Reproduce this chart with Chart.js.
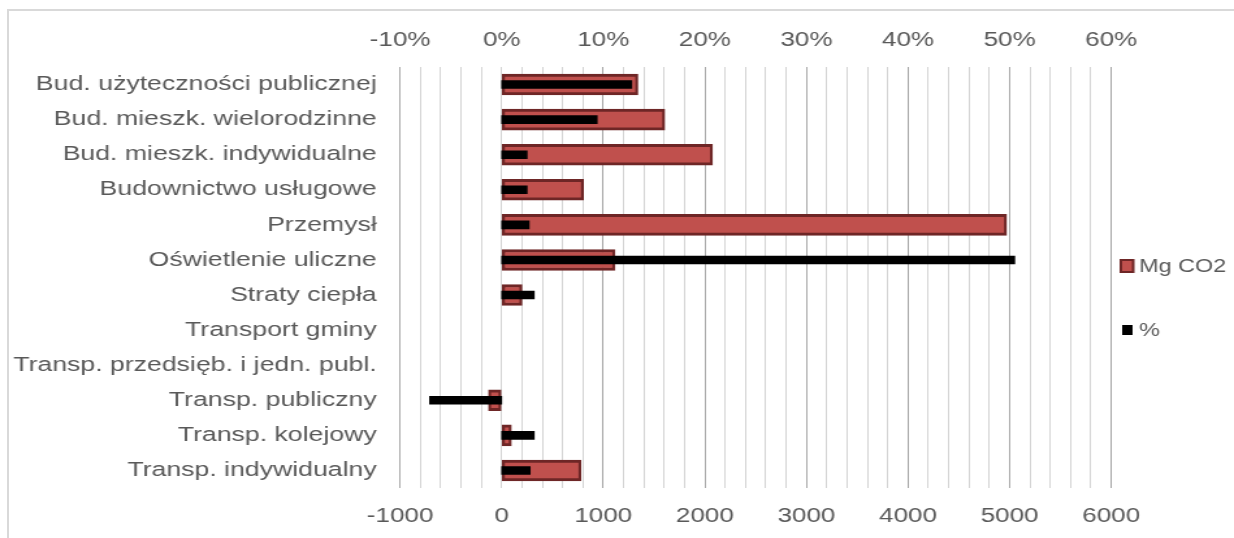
<!DOCTYPE html>
<html>
<head>
<meta charset="utf-8">
<script src="https://cdn.jsdelivr.net/npm/chart.js@4/dist/chart.umd.min.js"></script>
<style>
  html, body { margin: 0; padding: 0; background: #fff; overflow: hidden; }
  #frame { position: absolute; left: 7px; top: 9px; width: 1400px; height: 700px;
           border-top: 2px solid #d9d9d9; border-left: 2px solid #d9d9d9; }
  /* the picture is stretched sideways, so the chart is drawn narrower and widened */
  #wrap { position: absolute; left: 0; top: 0; width: 949px; height: 538px;
          transform: scaleX(1.3003); transform-origin: 0 0; }
</style>
</head>
<body>
<div id="frame"></div>
<div id="wrap"><canvas id="chart" width="949" height="538"></canvas></div>
<script>
const categories = [
    'Bud. użyteczności publicznej',
    'Bud. mieszk. wielorodzinne',
    'Bud. mieszk. indywidualne',
    'Budownictwo usługowe',
    'Przemysł',
    'Oświetlenie uliczne',
    'Straty ciepła',
    'Transport gminy',
    'Transp. przedsięb. i jedn. publ.',
    'Transp. publiczny',
    'Transp. kolejowy',
    'Transp. indywidualny'
];
const mgCO2 = [1340, 1605, 2075, 805, 4970, 1115, 200, 0, 0, -130, 95, 780];
const percent = [12.8, 9.4, 2.5, 2.5, 2.7, 50.5, 3.2, 0, 0, -7.1, 3.2, 2.8];
const mgTicks = { min: -1000, max: 6000, minor: 200, major: 1000 };
const pctTicks = { min: -10, max: 60, step: 10 };

Chart.defaults.font.family = "'Liberation Sans', Arial, sans-serif";
Chart.defaults.font.size = 20;
Chart.defaults.color = '#595959';

const mgFill = '#c0504d';
const mgEdge = '#6e2626';
const pctFill = '#000000';

// legend drawn by hand: the two entries sit far apart on the right
const sideLegend = {
    id: 'sideLegend',
    afterDraw(chart) {
        const c = chart.ctx;
        const ds = chart.data.datasets;
        c.save();
        c.font = "18px 'Liberation Sans', Arial, sans-serif";
        c.textBaseline = 'middle';
        // Mg CO2
        c.fillStyle = mgFill;
        c.fillRect(862, 260, 9.5, 12);
        c.strokeStyle = mgEdge;
        c.lineWidth = 2;
        c.strokeRect(862, 260, 9.5, 12);
        c.fillStyle = '#595959';
        c.fillText(ds[0].label, 876, 267);
        // %
        c.fillStyle = pctFill;
        c.fillRect(863, 325, 8, 10);
        c.fillStyle = '#595959';
        c.fillText(ds[1].label, 876, 331);
        c.restore();
    }
};

// empty bars leave no trace
const mgBorder = (c) => c.raw === 0 ? 0 : { top: 3, bottom: 3, left: 2.3, right: 2.3 };
const hideZero = (col) => (c) => c.raw === 0 ? 'rgba(0,0,0,0)' : col;

new Chart(document.getElementById('chart'), {
    type: 'bar',
    data: {
        labels: categories,
        datasets: [{
            label: 'Mg CO2',
            data: mgCO2,
            xAxisID: 'x',
            backgroundColor: hideZero(mgFill),
            borderColor: hideZero(mgEdge),
            borderWidth: mgBorder,
            borderSkipped: false,
            barThickness: 21,
            grouped: false,
            order: 1
        }, {
            label: '%',
            data: percent,
            xAxisID: 'x2',
            backgroundColor: hideZero(pctFill),
            borderWidth: 0,
            barThickness: 8,
            grouped: false,
            order: 0
        }]
    },
    options: {
        indexAxis: 'y',
        responsive: false,
        animation: false,
        layout: { padding: { left: 0, right: 94.4, top: 0, bottom: 0 } },
        plugins: {
            legend: { display: false },
            tooltip: { enabled: false }
        },
        scales: {
            x: {
                position: 'bottom',
                min: mgTicks.min,
                max: mgTicks.max,
                afterFit: (s) => { s.height = 50; },
                border: { display: false },
                grid: {
                    drawTicks: false,
                    lineWidth: 1,
                    color: (c) => {
                        const v = Math.round(c.tick.value);
                        return (v % mgTicks.major === 0 && v !== 0) ? '#a6a6a6' : '#d4d4d4';
                    }
                },
                ticks: {
                    stepSize: mgTicks.minor,
                    autoSkip: false,
                    maxRotation: 0,
                    padding: 16,
                    callback: (v) => {
                        const r = Math.round(v);
                        return r % mgTicks.major === 0 ? String(r) : '';
                    }
                }
            },
            x2: {
                position: 'top',
                min: pctTicks.min,
                max: pctTicks.max,
                afterFit: (s) => { s.height = 67; },
                border: { display: false },
                grid: { display: false, drawTicks: false },
                ticks: {
                    stepSize: pctTicks.step,
                    autoSkip: false,
                    maxRotation: 0,
                    padding: 15,
                    callback: (v) => Math.round(v) + '%'
                }
            },
            y: {
                afterFit: (s) => { s.width = 307.7; },
                border: { display: false },
                grid: { display: false, drawTicks: false },
                ticks: { autoSkip: false, padding: 18, font: { size: 20.5 } }
            }
        }
    },
    plugins: [sideLegend]
});
</script>
</body>
</html>
